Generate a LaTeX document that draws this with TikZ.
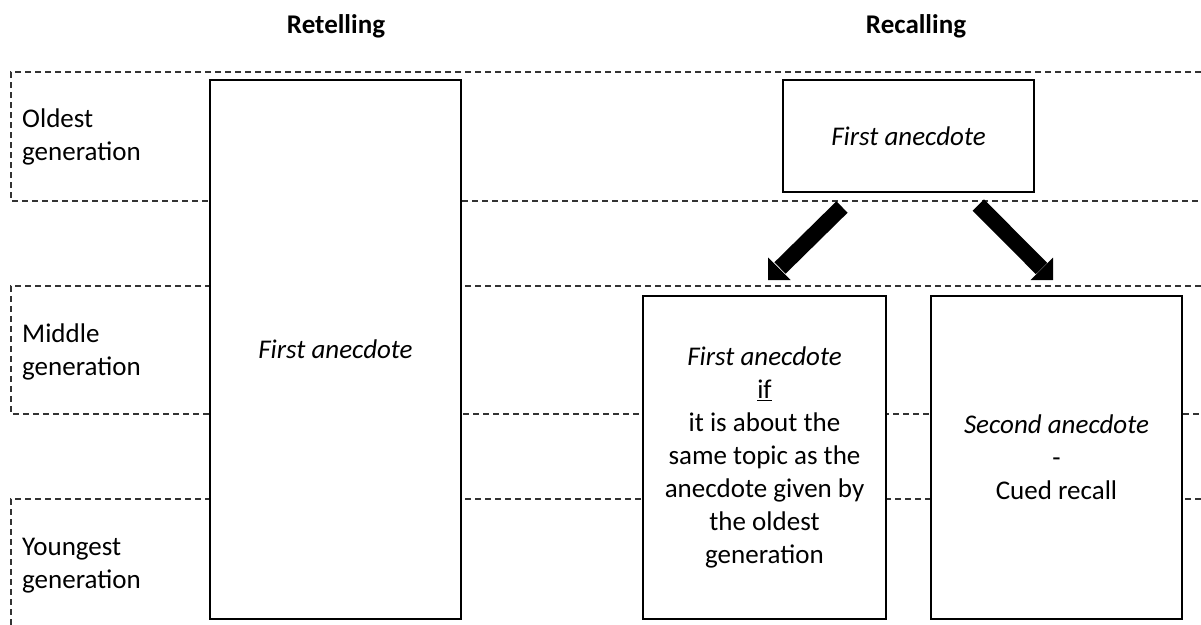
\documentclass[tikz,border=0pt]{standalone}
\usepackage{fontspec}
\setmainfont{Carlito}
\usetikzlibrary{calc}
\begin{document}
\begin{tikzpicture}[x=1pt,y=-1pt,
  rowline/.style={draw=black!80, line width=1.2pt, dash pattern=on 6pt off 4pt},
  box/.style={draw=black, line width=1.5pt, fill=white, inner sep=0pt, align=center,
    font=\fontsize{27}{33}\selectfont},
  lbl/.style={anchor=west, inner sep=0pt, align=left, font=\fontsize{27}{33}\selectfont},
  head/.style={inner sep=0pt, font=\bfseries\fontsize{27}{33}\selectfont},
  shaft/.style={line width=16pt, line cap=butt},
  tiphead/.style={fill=black}]
\useasboundingbox (0,0) rectangle (1201,624);
% headings
\node[head] (hRet) at (336,26) {Retelling};
\node[head] (hRec) at (916,26) {Recalling};
% dashed rows
\draw[rowline] (1201,72) -| (11,201) -- (1201,201);
\draw[rowline] (1201,286) -| (11,414) -- (1201,414);
\draw[rowline] (1201,499) -| (11,630);
% row labels
\node[lbl] (lOld) at (22,137) {Oldest\\generation};
\node[lbl] (lMid) at (22,352) {Middle\\generation};
\node[lbl] (lYng) at (22,566) {Youngest\\generation};
% boxes
\node[box, minimum width=251pt, minimum height=539pt] (bRet) at (335.5,349.5) {\textit{First anecdote}};
\node[box, minimum width=251pt, minimum height=112pt] (bTop) at (908.5,136) {\textit{First anecdote}};
\node[box, minimum width=243pt, minimum height=323pt] (bMid) at (764.5,457.5)
  {\textit{First anecdote}\\\underline{if}\\it is about the\\same topic as the\\anecdote given by\\the oldest\\generation};
\node[box, minimum width=251pt, minimum height=323pt] (bRgt) at (1056.5,457.5)
  {\textit{Second anecdote}\\-\\Cued recall};
% arrows (block arrows: shaft + triangular head)
\coordinate (a1s) at (842,207);
\coordinate (a1e) at (768,280);
\coordinate (a1b) at (780,268);
\coordinate (a2s) at (978.3,205);
\coordinate (a2e) at (1053,280);
\coordinate (a2b) at (1041.5,268.5);
\draw[shaft] (a1s) -- (a1b);
\fill[tiphead] (a1e) -- ($(a1e)+(0,-22.5)$) -- ($(a1e)+(22.5,0)$) -- cycle;
\draw[shaft] (a2s) -- (a2b);
\fill[tiphead] (a2e) -- ($(a2e)+(0,-22.5)$) -- ($(a2e)+(-22.5,0)$) -- cycle;
\end{tikzpicture}
\end{document}
